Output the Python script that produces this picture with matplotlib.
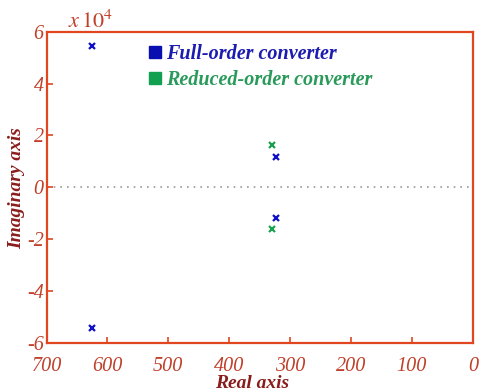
import numpy as np
import matplotlib.pyplot as plt
from matplotlib.lines import Line2D
from matplotlib.ticker import FuncFormatter

# pole locations (real part, imaginary part)
full_re = [625, 625, 324, 324]
full_im = [5.45e4, -5.42e4, 1.18e4, -1.17e4]
red_re = [330, 330]
red_im = [1.62e4, -1.60e4]
xticks = [700, 600, 500, 400, 300, 200, 100, 0]
yticks = [-6e4, -4e4, -2e4, 0, 2e4, 4e4, 6e4]

spine_c = "#e0461f"
tick_c = "#c0402a"
label_c = "#8a1c1c"
blue = "#1010c8"
green = "#1aa050"

plt.rcParams['font.family'] = ['Liberation Serif', 'DejaVu Serif']
plt.rcParams['mathtext.fontset'] = 'stix'

fig = plt.figure(figsize=(4.8, 3.91), dpi=100)
ax = fig.add_axes([0.097, 0.123, 0.888, 0.796])

ax.axhline(0, color="#999999", ls=(0, (1, 3)), lw=1.2, zorder=1)
ax.plot(full_re, full_im, ls="none", marker="x", ms=4.5, mew=1.6, color=blue)
ax.plot(red_re, red_im, ls="none", marker="x", ms=4.5, mew=1.6, color=green)

ax.set_xlim(700, 0)
ax.set_ylim(-6e4, 6e4)
ax.set_xticks(xticks)
ax.set_yticks(yticks)
ax.yaxis.set_major_formatter(FuncFormatter(lambda v, p: "%d" % round(v / 1e4)))

for s in ax.spines.values():
    s.set_color(spine_c)
    s.set_linewidth(1.6)
ax.tick_params(direction="in", length=4, width=1.2, color=spine_c,
               labelcolor=tick_c, labelsize=14.5)
ax.tick_params(axis="x", pad=10)
ax.tick_params(axis="y", pad=2)
for t in ax.get_xticklabels() + ax.get_yticklabels():
    t.set_fontstyle("italic")

ax.text(0.05, 0.995, r"$x\,10^4$", transform=ax.transAxes, color=tick_c,
        fontsize=16, ha="left", va="bottom", fontstyle="italic")

fig.text(252 / 480, 1 - 383 / 391, "Real axis", color=label_c, fontsize=14,
         fontweight="bold", fontstyle="italic", ha="center", va="center")
fig.text(17 / 480, 1 - 188 / 391, "Imaginary axis", color=label_c, fontsize=14,
         fontweight="bold", fontstyle="italic", ha="center", va="center",
         rotation=90)

handles = [Line2D([], [], ls="none", marker="s", ms=9, color="#0a10b0"),
           Line2D([], [], ls="none", marker="s", ms=9, color="#10a050")]
leg = ax.legend(handles, ["Full-order converter", "Reduced-order converter"],
                loc="upper left", bbox_to_anchor=(0.19, 1.02), frameon=False,
                handletextpad=0.1, handlelength=0.9, labelspacing=0.3,
                prop={"size": 14.5, "style": "italic", "weight": "bold"})
for t, c in zip(leg.get_texts(), ["#1c1cb0", "#2a9a5a"]):
    t.set_color(c)

fig.savefig("out.png", dpi=100)
